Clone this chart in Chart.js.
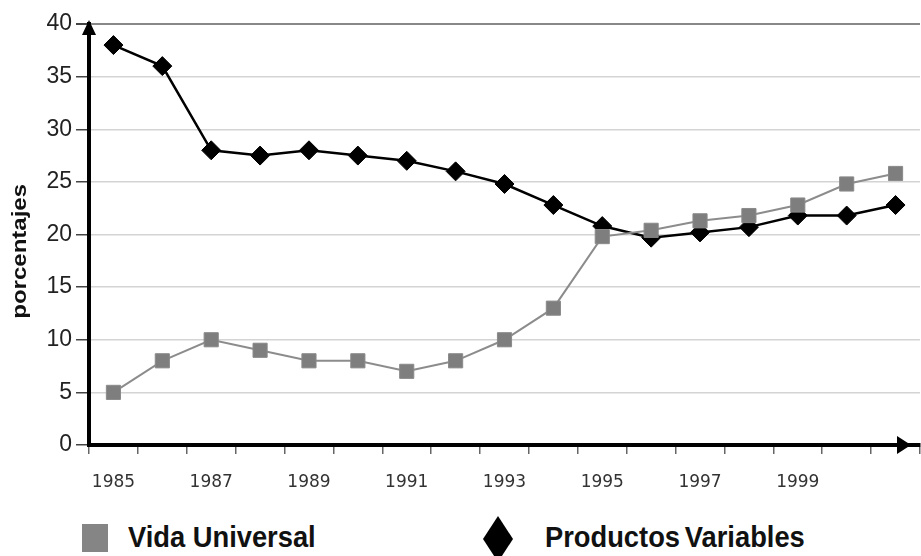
<!DOCTYPE html>
<html>
<head>
<meta charset="utf-8">
<script src="https://cdn.jsdelivr.net/npm/chart.js@4.4.1/dist/chart.umd.min.js"></script>
<style>
  html, body { margin: 0; padding: 0; background: #fff; overflow: hidden; }
  #wrap { position: absolute; left: 0; top: 0; width: 931px; height: 500px; }
  .legend-item { position: absolute; top: 518px; height: 38px; display: flex; align-items: center; }
  .legend-text {
    font: bold 30px "Liberation Sans", Arial, sans-serif; color: #111;
    transform: scaleX(0.91); transform-origin: left center; white-space: nowrap;
  }
  .sq { position: absolute; left: 82px; top: 524px; width: 26px; height: 28px; background: #858585; }
  .dia { position: absolute; left: 483px; top: 516px; width: 30px; height: 46px; background: #000;
         clip-path: polygon(50% 0, 100% 50%, 50% 100%, 0 50%); }
</style>
</head>
<body>
<div id="wrap"><canvas id="chart"></canvas></div>
<div class="sq"></div>
<div class="legend-item" style="left:128px"><span class="legend-text">Vida Universal</span></div>
<div class="dia"></div>
<div class="legend-item" style="left:545px"><span class="legend-text" style="word-spacing:-3px">Productos Variables</span></div>
<script>
const years = ['1985', '1986', '1987', '1988', '1989', '1990', '1991', '1992', '1993',
  '1994', '1995', '1996', '1997', '1998', '1999', '2000', '2001']
const shownYears = ['1985', '1987', '1989', '1991', '1993', '1995', '1997', '1999']
const vidaUniversal = [5, 8, 10, 9, 8, 8, 7, 8, 10, 13, 19.8, 20.4, 21.3, 21.8, 22.8, 24.8, 25.8]
const productosVariables = [38, 36, 28, 27.5, 28, 27.5, 27, 26, 24.8, 22.8, 20.8, 19.7, 20.2, 20.7, 21.8, 21.8, 22.8]
const yTitle = 'porcentajes'

const axisDecor = {
  id: 'axisDecor',
  afterDraw(chart) {
    const { ctx, chartArea } = chart
    const { left, top, bottom, right } = chartArea
    ctx.save()
    ctx.fillStyle = '#000'
    // y arrow
    ctx.beginPath()
    ctx.moveTo(left, top - 4)
    ctx.lineTo(left + 7, top + 11)
    ctx.lineTo(left - 7, top + 11)
    ctx.closePath()
    ctx.fill()
    // x arrow
    const tip = right - 9
    ctx.beginPath()
    ctx.moveTo(tip, bottom)
    ctx.lineTo(tip - 14, bottom - 9)
    ctx.lineTo(tip - 14, bottom + 9)
    ctx.closePath()
    ctx.fill()
    // y title
    ctx.translate(20, top + (bottom - top) * 0.54)
    ctx.rotate(-Math.PI / 2)
    ctx.scale(1.2, 1)
    ctx.font = 'bold 20px "Liberation Sans", Arial, sans-serif'
    ctx.fillStyle = '#111'
    ctx.textAlign = 'center'
    ctx.textBaseline = 'middle'
    ctx.fillText(yTitle, 0, 0)
    ctx.restore()
  }
}

new Chart(document.getElementById('chart'), {
  type: 'line',
  data: {
    labels: years,
    datasets: [
      {
        label: 'Vida Universal',
        data: vidaUniversal,
        borderColor: '#8c8c8c',
        borderWidth: 2,
        backgroundColor: '#7e7e7e',
        pointStyle: 'rect',
        pointRadius: 10,
        pointBorderColor: '#8a8a8a',
        pointBorderWidth: 1,
        tension: 0,
      },
      {
        label: 'Productos Variables',
        data: productosVariables,
        borderColor: '#000',
        borderWidth: 2.5,
        backgroundColor: '#000',
        pointStyle: 'rectRot',
        pointRadius: 9.5,
        pointBorderColor: '#000',
        pointBorderWidth: 1,
        tension: 0,
      },
    ],
  },
  options: {
    responsive: true,
    maintainAspectRatio: false,
    animation: false,
    layout: { padding: { top: 24, left: 0, right: 0, bottom: 0 } },
    plugins: {
      legend: { display: false },
      tooltip: { enabled: false },
    },
    scales: {
      x: {
        offset: true,
        afterFit: (scale) => { scale.height = 55 },
        border: { color: '#000', width: 4 },
        grid: {
          offset: true,
          drawOnChartArea: false,
          drawTicks: true,
          tickLength: 9,
          tickColor: '#666',
          lineWidth: 1.5,
        },
        ticks: {
          autoSkip: false,
          maxRotation: 0,
          padding: 18,
          color: '#333',
          font: { family: 'DejaVu Sans', size: 17 },
          callback: function (value) {
            const lab = this.getLabelForValue(value)
            return shownYears.includes(lab) ? lab : ''
          },
        },
      },
      y: {
        min: 0,
        max: 40,
        afterFit: (scale) => { scale.width = 89 },
        border: { color: '#000', width: 4 },
        grid: {
          color: (c) => (c.tick && c.tick.value === 40 ? '#888' : '#d4d4d4'),
          lineWidth: (c) => (c.tick && c.tick.value === 40 ? 2 : 1.5),
          tickColor: '#444',
          tickLength: 13,
        },
        ticks: {
          stepSize: 5,
          padding: 4,
          color: '#222',
          font: { family: 'Liberation Sans', size: 23 },
        },
      },
    },
  },
  plugins: [axisDecor],
})
</script>
</body>
</html>
